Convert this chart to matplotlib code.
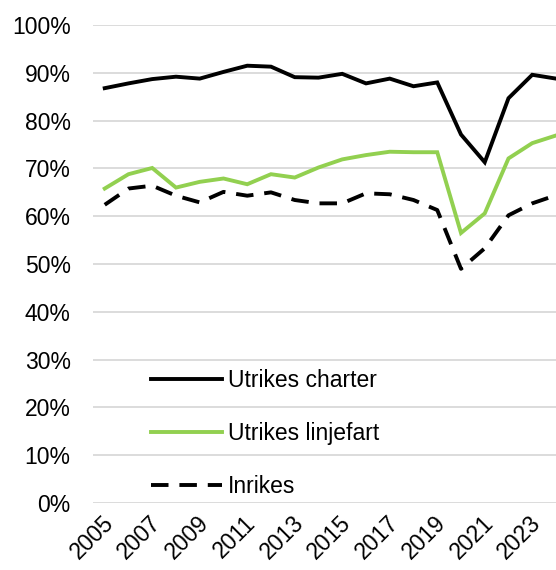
import matplotlib.pyplot as plt
import matplotlib.transforms as mtransforms
import numpy as np

plt.rcParams["font.family"] = ["Liberation Sans", "DejaVu Sans"]

years = np.arange(2005, 2025)
charter = [86.8, 87.8, 88.7, 89.2, 88.8, 90.2, 91.5, 91.3, 89.1, 89.0,
           89.8, 87.8, 88.8, 87.2, 88.0, 77.1, 71.3, 84.7, 89.6, 88.8]
linjefart = [65.8, 68.8, 70.1, 66.0, 67.2, 67.9, 66.7, 68.8, 68.1, 70.2,
             71.9, 72.8, 73.5, 73.4, 73.4, 56.5, 60.6, 72.1, 75.3, 76.9]
inrikes = [62.4, 65.8, 66.4, 64.3, 62.9, 65.1, 64.3, 65.0, 63.4, 62.7,
           62.7, 64.8, 64.6, 63.4, 61.3, 49.0, 53.3, 60.2, 62.7, 64.4]
xticks = list(range(2005, 2024, 2))

fig = plt.figure(figsize=(5.56, 5.70), dpi=100)
ax = fig.add_axes([0.167, 0.1175, 0.833, 0.8385])

ax.plot(years, charter, color="black", lw=2.8, label="Utrikes charter",
        solid_joinstyle="miter")
ax.plot(years, linjefart, color="#92d050", lw=2.8, label="Utrikes linjefart",
        solid_joinstyle="miter")
ax.plot(years, inrikes, color="black", lw=2.8, label="Inrikes",
        dashes=(4.5, 2.8))

ax.set_ylim(0, 100)
ax.set_xlim(2004.5, 2024.0)
ax.set_yticks(np.arange(0, 101, 10))
ax.set_yticklabels([f"{v}%" for v in range(0, 101, 10)])
ax.set_xticks(xticks)
ax.set_xticklabels([str(x) for x in xticks], rotation=45, ha="right",
                   rotation_mode="anchor")
ax.grid(axis="y", color="#d9d9d9", lw=1.3)
ax.set_axisbelow(True)
for s in ax.spines.values():
    s.set_visible(False)
ax.tick_params(length=0, labelsize=16.5, colors="black")
ax.tick_params(axis="y", pad=16)
ax.tick_params(axis="x", pad=6)

# nudge rotated year labels a little left, like the original
shift = mtransforms.ScaledTranslation(-3 / 100, 0, fig.dpi_scale_trans)
for lab in ax.get_xticklabels():
    lab.set_transform(lab.get_transform() + shift)

ax.legend(loc="upper left", bbox_to_anchor=(0.1246, 0.28), frameon=False,
          fontsize=16.5, handlelength=3.1, labelspacing=1.3, borderpad=0,
          borderaxespad=0, handletextpad=0.28)

fig.savefig("out.png")
